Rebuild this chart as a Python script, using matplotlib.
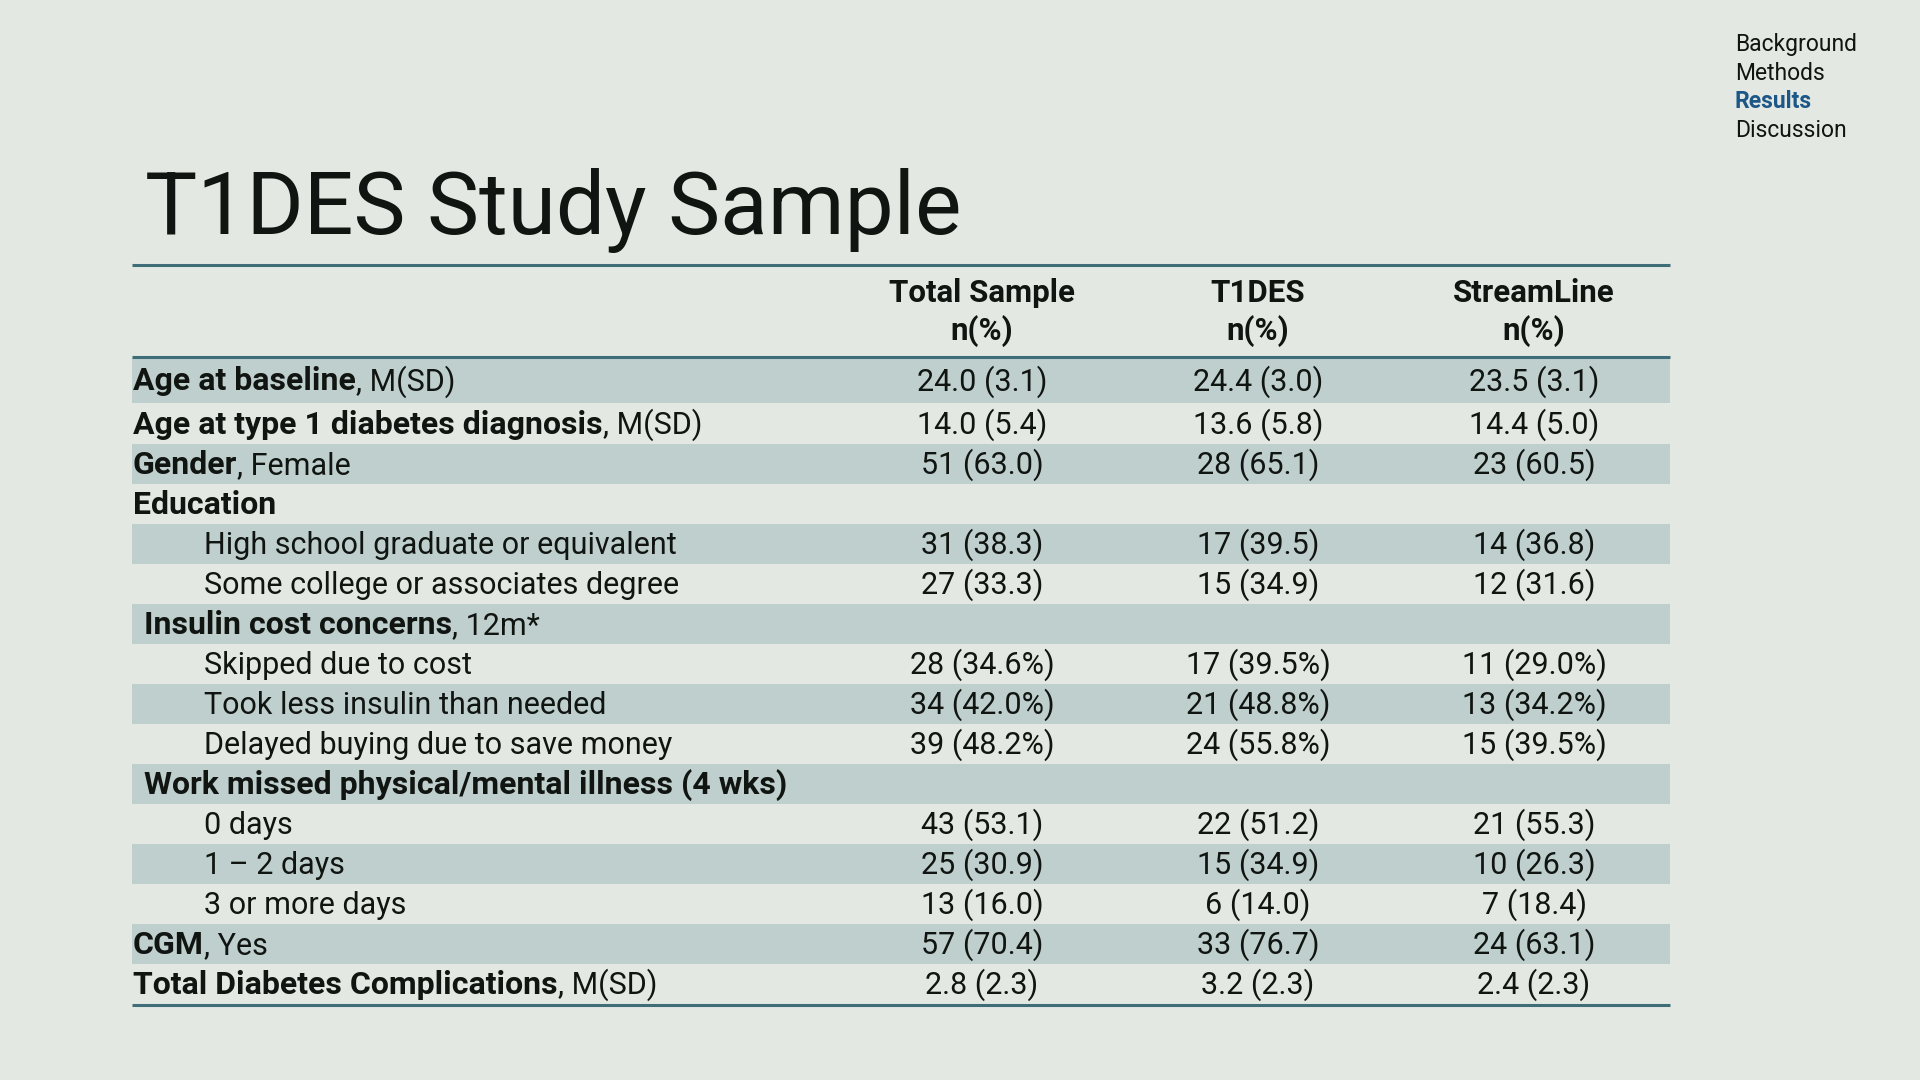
import matplotlib
matplotlib.use("Agg")
import matplotlib.pyplot as plt
from matplotlib.patches import Rectangle

# ---------------- data ----------------
title = "T1DES Study Sample"
nav_items = ["Background", "Methods", "Results", "Discussion"]
nav_active = "Results"
columns = ["Total Sample", "T1DES", "StreamLine"]
column_sub = "n(%)"

row_bold = ["Age at baseline", "Age at type 1 diabetes diagnosis", "Gender", "Education",
            "", "", "Insulin cost concerns", "", "", "",
            "Work missed physical/mental illness (4 wks)", "", "", "", "CGM",
            "Total Diabetes Complications"]
row_plain = [", M(SD)", ", M(SD)", ", Female", "",
             "High school graduate or equivalent", "Some college or associates degree",
             ", 12m*", "Skipped due to cost", "Took less insulin than needed",
             "Delayed buying due to save money", "", "0 days", "1 \u2013 2 days",
             "3 or more days", ", Yes", ", M(SD)"]
row_indent = [0, 0, 0, 0, 2, 2, 1, 2, 2, 2, 1, 2, 2, 2, 0, 0]
row_shaded = [True, False, True, False, True, False, True, False,
              True, False, True, False, True, False, True, False]

total_sample = ["24.0 (3.1)", "14.0 (5.4)", "51 (63.0)", "", "31 (38.3)", "27 (33.3)", "",
                "28 (34.6%)", "34 (42.0%)", "39 (48.2%)", "", "43 (53.1)", "25 (30.9)",
                "13 (16.0)", "57 (70.4)", "2.8 (2.3)"]
t1des = ["24.4 (3.0)", "13.6 (5.8)", "28 (65.1)", "", "17 (39.5)", "15 (34.9)", "",
         "17 (39.5%)", "21 (48.8%)", "24 (55.8%)", "", "22 (51.2)", "15 (34.9)",
         "6 (14.0)", "33 (76.7)", "3.2 (2.3)"]
streamline = ["23.5 (3.1)", "14.4 (5.0)", "23 (60.5)", "", "14 (36.8)", "12 (31.6)", "",
              "11 (29.0%)", "13 (34.2%)", "15 (39.5%)", "", "21 (55.3)", "10 (26.3)",
              "7 (18.4)", "24 (63.1)", "2.4 (2.3)"]

# ---------------- style / layout ----------------
BG = "#E3E9E2"
BAND = "#BECFCE"
RULE = "#3F6E79"
TXT = "#111511"
ACTIVE = "#1D5788"
FONT = "Roboto"

W, H = 1920, 1080
fig = plt.figure(figsize=(W / 100, H / 100), dpi=100, facecolor=BG)
ax = fig.add_axes([0, 0, 1, 1])
ax.set_xlim(0, W)
ax.set_ylim(H, 0)
ax.axis("off")
ax.set_facecolor(BG)

renderer = fig.canvas.get_renderer()

# navigation
nav_y = [51, 80, 108, 137]
for item, y in zip(nav_items, nav_y):
    active = item == nav_active
    ax.text(1735, y, item, fontsize=16.5, family=FONT, va="baseline", ha="left",
            color=ACTIVE if active else TXT, fontweight="bold" if active else "normal")

# title
ax.text(145, 234, title, fontsize=63, family=FONT, color=TXT, va="baseline", ha="left")

x_left, x_right = 132, 1670
# rules
ax.plot([x_left, x_right], [265, 265], color=RULE, lw=2.2, solid_capstyle="butt")
ax.plot([x_left, x_right], [357, 357], color=RULE, lw=2.2, solid_capstyle="butt")

col_x = [982, 1258, 1534]
for cx, name in zip(col_x, columns):
    ax.text(cx, 302, name, fontsize=22.5, family=FONT, fontweight="bold", color=TXT,
            ha="center", va="baseline")
    ax.text(cx, 340, column_sub, fontsize=22.5, family=FONT, fontweight="bold", color=TXT,
            ha="center", va="baseline")

row_heights = [45, 41] + [40] * 14
indent_x = {0: 133, 1: 144, 2: 204}
FS = 22
FSB = 23

top = 358
for i in range(len(row_bold)):
    h = row_heights[i]
    if row_shaded[i]:
        ax.add_patch(Rectangle((x_left, top), x_right - x_left, h, facecolor=BAND,
                               edgecolor="none", zorder=0))
    yb = top + h / 2 + 10
    x = indent_x[row_indent[i]]
    if row_bold[i]:
        t = ax.text(x, yb, row_bold[i], fontsize=FSB, family=FONT, fontweight="bold",
                    color=TXT, ha="left", va="baseline")
        bb = t.get_window_extent(renderer=renderer)
        x = x + bb.width
    if row_plain[i]:
        ax.text(x, yb, row_plain[i], fontsize=FS, family=FONT, color=TXT,
                ha="left", va="baseline")
    for cx, vals in zip(col_x, [total_sample, t1des, streamline]):
        if vals[i]:
            ax.text(cx, yb, vals[i], fontsize=FS, family=FONT, color=TXT,
                    ha="center", va="baseline")
    top += h

ax.plot([x_left, x_right], [top + 1, top + 1], color=RULE, lw=2.2, solid_capstyle="butt")

fig.savefig("out.png", dpi=100, facecolor=BG)
